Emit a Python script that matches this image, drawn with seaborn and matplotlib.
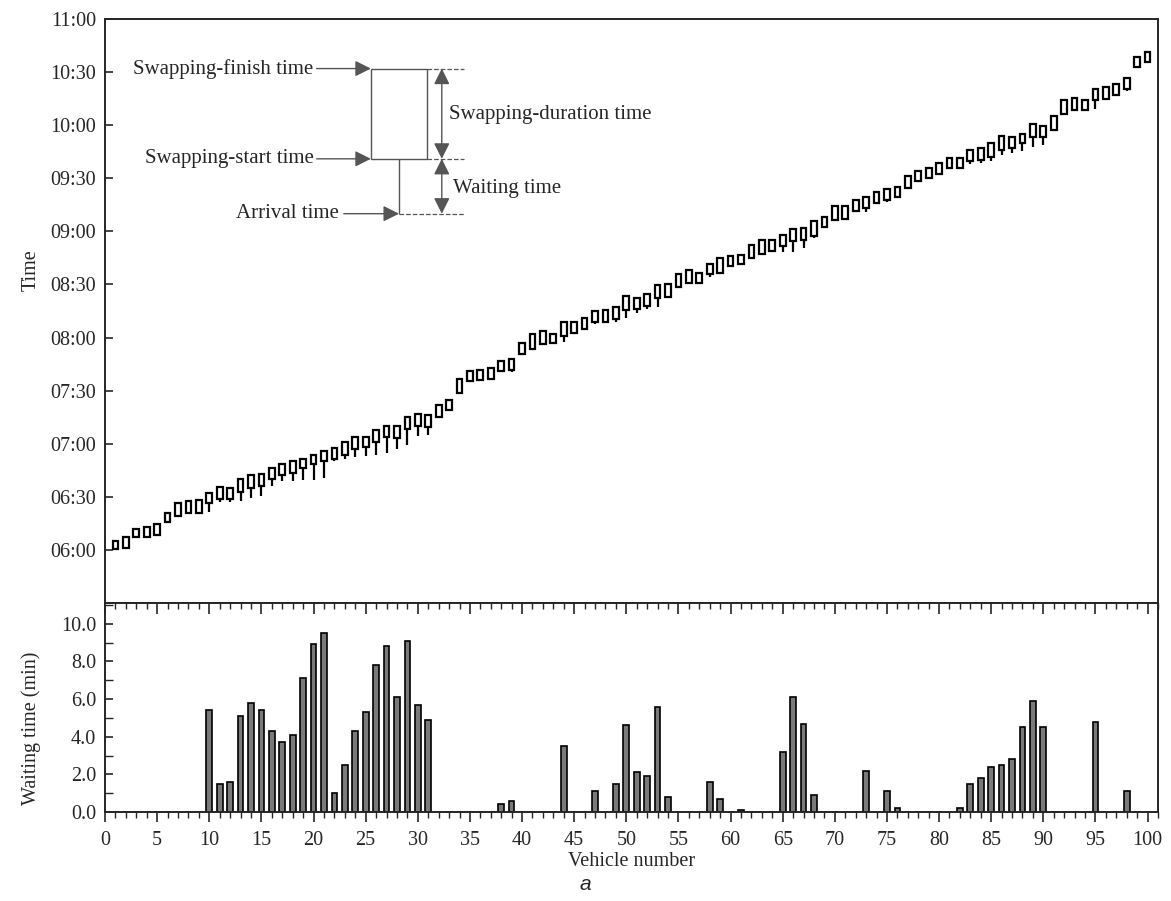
import numpy as np
import pandas as pd
import matplotlib
matplotlib.use('Agg')
import matplotlib.pyplot as plt
from matplotlib.ticker import FuncFormatter, MultipleLocator
import seaborn as sns

# --- data (minutes after 06:00 / minutes) ---
VEHICLES = list(range(1, 101))

START_MIN = [0.5, 0.9, 7.1, 7.5, 8.6, 15.9, 19.3, 21.1, 21.1, 26.7,
             28.6, 28.6, 32.7, 35.1, 36.1, 40.2, 42.6, 43.2, 46.4, 48.6,
             50.1, 51.4, 53.8, 57.0, 58.2, 61.2, 63.6, 63.0, 68.3, 70.0,
             69.6, 75.2, 79.0, 88.7, 95.4, 95.8, 96.8, 101.0, 101.4, 110.8,
             113.6, 116.4, 117.0, 121.1, 122.4, 124.8, 128.6, 128.6, 130.5, 135.8,
             136.1, 137.9, 142.6, 143.0, 148.6, 151.0, 151.0, 155.7, 156.7, 160.4,
             161.3, 165.1, 167.3, 168.8, 171.6, 174.5, 175.4, 177.3, 182.5, 186.6,
             187.2, 191.3, 193.2, 196.0, 197.5, 199.7, 204.4, 208.5, 210.0, 212.3,
             215.6, 216.0, 219.7, 220.3, 222.2, 225.9, 226.9, 229.7, 233.4, 233.4,
             237.2, 246.5, 248.4, 248.4, 254.0, 255.0, 256.8, 260.2, 272.7, 275.5]

FINISH_MIN = [5.2, 7.1, 12.1, 12.7, 14.6, 20.6, 26.7, 27.7, 28.0, 32.3,
              35.5, 35.1, 40.2, 42.4, 43.0, 46.4, 48.8, 50.1, 51.4, 53.8,
              55.7, 57.6, 60.9, 63.7, 63.6, 67.7, 70.0, 70.0, 75.2, 76.7,
              76.2, 81.8, 84.6, 96.8, 101.0, 101.4, 102.9, 106.5, 107.8, 117.0,
              122.0, 123.9, 122.0, 128.6, 128.6, 131.0, 135.1, 135.5, 137.0, 143.3,
              142.6, 144.9, 149.7, 150.1, 156.1, 158.0, 156.7, 161.4, 165.1, 166.0,
              166.4, 172.2, 175.4, 175.4, 177.8, 181.4, 181.9, 185.7, 187.9, 194.1,
              194.1, 197.9, 199.7, 202.5, 204.0, 204.8, 211.5, 214.1, 215.6, 218.8,
              221.2, 221.6, 225.9, 226.9, 229.7, 234.0, 233.4, 235.3, 240.9, 239.4,
              245.2, 254.0, 255.3, 254.0, 260.6, 261.5, 263.4, 266.6, 278.4, 281.5]

WAIT_MIN = [0, 0, 0, 0, 0, 0, 0, 0, 0, 5.4,
            1.5, 1.6, 5.1, 5.8, 5.4, 4.3, 3.7, 4.1, 7.1, 8.9,
            9.5, 1.0, 2.5, 4.3, 5.3, 7.8, 8.8, 6.1, 9.1, 5.7,
            4.9, 0, 0, 0, 0, 0, 0, 0.4, 0.6, 0,
            0, 0, 0, 3.5, 0, 0, 1.1, 0, 1.5, 4.6,
            2.1, 1.9, 5.6, 0.8, 0, 0, 0, 1.6, 0.7, 0,
            0.1, 0, 0, 0, 3.2, 6.1, 4.7, 0.9, 0, 0,
            0, 0, 2.2, 0, 1.1, 0.2, 0, 0, 0, 0,
            0, 0.2, 1.5, 1.8, 2.4, 2.5, 2.8, 4.5, 5.9, 4.5,
            0, 0, 0, 0, 4.8, 0, 0, 1.1, 0, 0]

# legend sketch (minutes after 06:00)
SKETCH_FINISH = 272
SKETCH_START = 221
SKETCH_ARRIVAL = 190

FS = 14.5

sns.set_style('ticks')
plt.rcParams['font.family'] = ['Liberation Serif', 'DejaVu Serif']
plt.rcParams['axes.linewidth'] = 1.4

df = pd.DataFrame({'vehicle': VEHICLES, 'start': START_MIN,
                   'finish': FINISH_MIN, 'wait': WAIT_MIN})
df['arrival'] = df['start'] - df['wait']

fig = plt.figure(figsize=(11.71, 9.01), dpi=100)
ax1 = fig.add_axes([0.0897, 0.3307, 0.8992, 0.6482])
ax2 = fig.add_axes([0.0897, 0.0988, 0.8992, 0.2319])

# --- top: swapping boxes ---
ax1.bar(df['vehicle'], df['finish'] - df['start'], bottom=df['start'],
        width=0.55, fill=False, edgecolor='black', linewidth=1.6)
w = df[df['wait'] > 0]
ax1.vlines(w['vehicle'], w['arrival'], w['start'], color='black', linewidth=1.6)

ax1.set_xlim(0, 101)
ax1.set_ylim(-30, 300)
ax1.set_yticks(range(0, 301, 30))
ax1.yaxis.set_major_formatter(FuncFormatter(
    lambda m, _: f"{6 + int(m) // 60:02d}:{int(m) % 60:02d}"))
ax1.tick_params(axis='y', direction='in', labelsize=FS, length=6, width=1.2, pad=6.5)
ax1.set_xticks([])
ax1.set_ylabel('Time', fontsize=FS)
ax1.yaxis.set_label_coords(-0.061, 0.57)

# legend sketch
g = '#555555'
ax1.bar([28.2], [SKETCH_FINISH - SKETCH_START], bottom=[SKETCH_START], width=5.4,
        fill=False, edgecolor=g, linewidth=1.0)
ax1.vlines([28.2], SKETCH_ARRIVAL, SKETCH_START, color=g, linewidth=1.0)
for y0, x0 in [(SKETCH_FINISH, 30.9), (SKETCH_START, 30.9), (SKETCH_ARRIVAL, 28.2)]:
    ax1.plot([x0, 34.4], [y0, y0], color=g, linestyle='--', linewidth=0.9)
arrow = dict(arrowstyle='-|>', color=g, lw=1.0, mutation_scale=24, shrinkA=0, shrinkB=0)
ax1.annotate('', xy=(25.5, SKETCH_FINISH), xytext=(20.3, SKETCH_FINISH), arrowprops=arrow)
ax1.annotate('', xy=(25.5, SKETCH_START), xytext=(20.3, SKETCH_START), arrowprops=arrow)
ax1.annotate('', xy=(28.2, SKETCH_ARRIVAL), xytext=(22.9, SKETCH_ARRIVAL), arrowprops=arrow)
ax1.text(20.0, SKETCH_FINISH, 'Swapping-finish time', ha='right', va='center', fontsize=FS + 0.5)
ax1.text(20.0, SKETCH_START, 'Swapping-start time', ha='right', va='center', fontsize=FS + 0.5)
ax1.text(22.4, SKETCH_ARRIVAL, 'Arrival time', ha='right', va='center', fontsize=FS + 0.5)
darrow = dict(arrowstyle='<|-|>', color=g, lw=1.0, mutation_scale=24, shrinkA=0, shrinkB=0)
ax1.annotate('', xy=(32.3, SKETCH_FINISH), xytext=(32.3, SKETCH_START), arrowprops=darrow)
ax1.annotate('', xy=(32.3, SKETCH_START), xytext=(32.3, SKETCH_ARRIVAL), arrowprops=darrow)
ax1.text(33.0, 246, 'Swapping-duration time', ha='left', va='center', fontsize=FS + 0.5)
ax1.text(33.4, 204, 'Waiting time', ha='left', va='center', fontsize=FS + 0.5)

# --- bottom: waiting time bars ---
sns.barplot(data=df, x='vehicle', y='wait', native_scale=True, errorbar=None,
            color='#7a7a7a', saturation=1, edgecolor='black', linewidth=1.2,
            width=0.55, ax=ax2)
ax2.set_xlim(0, 101)
ax2.set_ylim(0, 11.1)
ax2.set_xticks(range(0, 101, 5))
ax2.set_xticklabels([str(v) for v in range(0, 101, 5)])
ax2.xaxis.set_minor_locator(MultipleLocator(1))
ax2.set_yticks([0, 2, 4, 6, 8, 10])
ax2.set_yticklabels([f'{v:.1f}' for v in [0, 2, 4, 6, 8, 10]])
ax2.yaxis.set_minor_locator(MultipleLocator(1))
ax2.tick_params(axis='x', which='both', direction='out', labelsize=FS, pad=7)
ax2.tick_params(axis='x', which='major', length=7, width=1.2)
ax2.tick_params(axis='x', which='minor', length=4, width=1.0)
sec = ax2.secondary_xaxis('top')
sec.set_xticks(range(0, 101, 5))
sec.xaxis.set_minor_locator(MultipleLocator(1))
sec.tick_params(which='major', direction='in', length=8, width=1.2, labeltop=False)
sec.tick_params(which='minor', direction='in', length=4, width=1.0)
sec.spines['top'].set_visible(False)
ax2.tick_params(axis='y', which='both', direction='in', labelsize=FS, pad=6.5)
ax2.tick_params(axis='y', which='major', length=6, width=1.2)
ax2.tick_params(axis='y', which='minor', length=6, width=1.0)
ax2.set_xlabel('Vehicle number', fontsize=FS, labelpad=1)
ax2.set_ylabel('Waiting time (min)', fontsize=FS)
ax2.yaxis.set_label_coords(-0.061, 0.40)

fig.text(0.5, 0.018, 'a', ha='center', va='center', fontsize=15,
         style='italic', family=['Liberation Sans', 'DejaVu Sans'])

fig.savefig('out.png', dpi=100)
